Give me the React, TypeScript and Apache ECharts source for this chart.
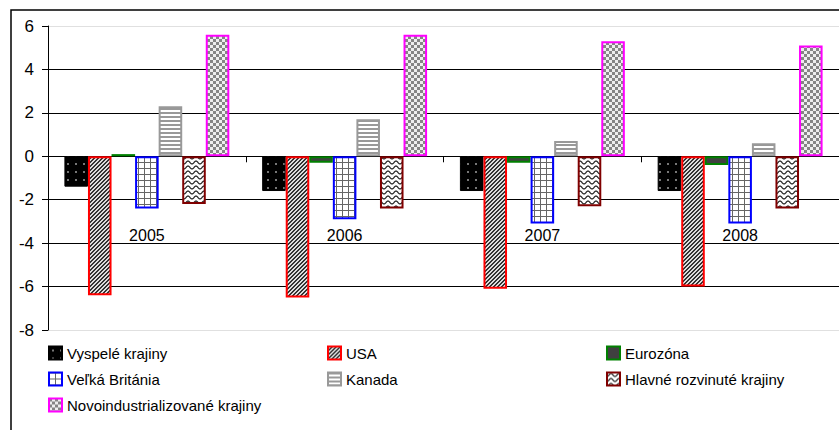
import React, { useEffect, useRef } from "react";
import * as echarts from "echarts";

const categories = ["2005", "2006", "2007", "2008"];
const yTicks = [-8, -6, -4, -2, 0, 2, 4, 6];
const seriesNames = [
  "Vyspelé krajiny",
  "USA",
  "Eurozóna",
  "Veľká Británia",
  "Kanada",
  "Hlavné rozvinuté krajiny",
  "Novoindustrializované krajiny",
];
const vyspele = [-1.4, -1.6, -1.6, -1.6];
const usa = [-6.4, -6.5, -6.1, -6.0];
const eurozona = [0.1, -0.3, -0.3, -0.4];
const velkaBritania = [-2.4, -2.9, -3.1, -3.1];
const kanada = [2.3, 1.7, 0.7, 0.6];
const hlavne = [-2.2, -2.4, -2.3, -2.4];
const novo = [5.6, 5.6, 5.3, 5.1];

const FONT = "'Liberation Sans', Arial, sans-serif";

function makePattern(w: number, h: number, draw: (ctx: CanvasRenderingContext2D) => void) {
  const c = document.createElement("canvas");
  c.width = w;
  c.height = h;
  const ctx = c.getContext("2d") as CanvasRenderingContext2D;
  draw(ctx);
  return { image: c, repeat: "repeat" } as any;
}

export default function App() {
  const ref = useRef<HTMLDivElement>(null);
  useEffect(() => {
    if (!ref.current) return;
    const chart = echarts.init(ref.current, null, { renderer: "svg" });

    const pDots = makePattern(8, 8, (ctx) => {
      ctx.fillStyle = "#000";
      ctx.fillRect(0, 0, 8, 8);
      ctx.fillStyle = "#777";
      ctx.fillRect(3, 3, 2, 2);
    });
    const pDiag = makePattern(4, 4, (ctx) => {
      ctx.fillStyle = "#ddd";
      ctx.fillRect(0, 0, 4, 4);
      ctx.fillStyle = "#333";
      for (let x = 0; x < 4; x++) {
        const y = (3 - x + 4) % 4;
        ctx.fillRect(x, y, 1, 1);
        ctx.fillRect(x, (y + 1) % 4, 1, 1);
      }
    });
    const pGrid = makePattern(6, 6, (ctx) => {
      ctx.fillStyle = "#fff";
      ctx.fillRect(0, 0, 6, 6);
      ctx.fillStyle = "#666";
      ctx.fillRect(0, 0, 6, 1);
      ctx.fillRect(0, 0, 1, 6);
    });
    const pHoriz = makePattern(4, 4, (ctx) => {
      ctx.fillStyle = "#fff";
      ctx.fillRect(0, 0, 4, 4);
      ctx.fillStyle = "#999";
      ctx.fillRect(0, 0, 4, 2);
    });
    const pWave = makePattern(8, 5, (ctx) => {
      ctx.fillStyle = "#fff";
      ctx.fillRect(0, 0, 8, 5);
      ctx.strokeStyle = "#222";
      ctx.lineWidth = 1.2;
      ctx.beginPath();
      for (let x = 0; x <= 8; x += 0.5) {
        const y = 2.5 + 1.5 * Math.cos((2 * Math.PI * x) / 8);
        if (x === 0) ctx.moveTo(x, y);
        else ctx.lineTo(x, y);
      }
      ctx.stroke();
    });
    const pCheck = makePattern(6, 6, (ctx) => {
      ctx.fillStyle = "#eee";
      ctx.fillRect(0, 0, 6, 6);
      ctx.fillStyle = "#858585";
      ctx.fillRect(0, 0, 3, 3);
      ctx.fillRect(3, 3, 3, 3);
    });

    const values = [vyspele, usa, eurozona, velkaBritania, kanada, hlavne, novo];
    const fills = [pDots, pDiag, "#404040", pGrid, pHoriz, pWave, pCheck];
    const borders = ["#000000", "#ff0000", "#008000", "#0000ff", "#999999", "#800000", "#ff00ff"];

    const series = seriesNames.map((name, i) => ({
      name,
      type: "bar",
      data: values[i],
      barGap: "0%",
      barCategoryGap: "16.6%",
      itemStyle: {
        color: fills[i],
        borderColor: borders[i],
        borderWidth: i === 0 ? 1 : 2,
      },
    }));

    const legendBase = {
      orient: "vertical",
      padding: 0,
      itemWidth: 13,
      itemHeight: 13,
      itemGap: 8,
      icon: "rect",
      textStyle: { fontFamily: FONT, fontSize: 15, color: "#000", lineHeight: 18 },
      top: 344,
    };

    chart.setOption({
      animation: false,
      grid: { left: 48, top: 26, width: 795, height: 304 },
      graphic: [
        {
          type: "rect",
          shape: { x: 11, y: 10, width: 900, height: 500 },
          style: { fill: "none", stroke: "#000", lineWidth: 1.5 },
          silent: true,
        },
      ],
      legend: [
        { ...legendBase, left: 48, data: [seriesNames[0], seriesNames[3], seriesNames[6]] },
        { ...legendBase, left: 327, data: [seriesNames[1], seriesNames[4]] },
        { ...legendBase, left: 606, data: [seriesNames[2], seriesNames[5]] },
      ],
      xAxis: {
        type: "category",
        data: categories,
        axisLine: { onZero: true, lineStyle: { color: "#000", width: 1 } },
        axisTick: { show: true, length: 6, lineStyle: { color: "#000" } },
        axisLabel: { margin: -103, fontFamily: FONT, fontSize: 16, color: "#000", interval: 0 },
        splitLine: { show: false },
      },
      yAxis: {
        type: "value",
        min: yTicks[0],
        max: yTicks[yTicks.length - 1],
        interval: 2,
        axisLine: { show: true, lineStyle: { color: "#000", width: 1 } },
        axisTick: { show: true, length: 6, lineStyle: { color: "#000" } },
        axisLabel: { margin: 14, fontFamily: FONT, fontSize: 17, color: "#000" },
        splitLine: {
          show: true,
          lineStyle: {
            color: ["#e0e0e0", "#000", "#000", "#000", "#000", "#000", "#000", "#e0e0e0"],
            width: 1,
          },
        },
      },
      series,
    } as any);
    return () => chart.dispose();
  }, []);
  return (
    <div
      ref={ref}
      style={{ position: "fixed", left: 0, top: 0, width: 839, height: 430, background: "#fff" }}
    />
  );
}
